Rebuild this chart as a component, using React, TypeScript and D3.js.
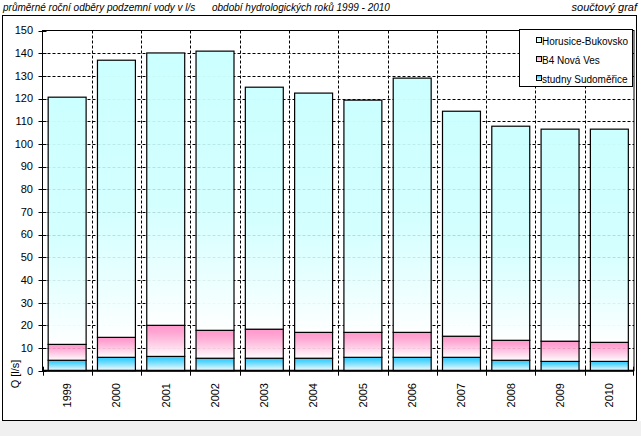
import * as d3 from "d3";

const years = ["1999", "2000", "2001", "2002", "2003", "2004", "2005", "2006", "2007", "2008", "2009", "2010"];
// studny Sudoměřice (bottom)
const sudomerice = [4.6, 5.9, 6.3, 5.5, 5.5, 5.5, 5.9, 5.9, 5.9, 4.6, 4.1, 4.1];
// B4 Nová Ves (middle)
const novaVes = [7.0, 8.8, 13.7, 12.3, 12.8, 11.4, 11.0, 11.0, 9.3, 8.8, 8.9, 8.4];
// Horusice-Bukovsko (top)
const horusice = [109.0, 122.2, 120.1, 123.1, 106.7, 105.5, 102.4, 112.1, 99.2, 94.4, 93.5, 94.0];
const yTicks = d3.range(0, 151, 10);

const seriesNames = ["studny Sudoměřice", "B4 Nová Ves", "Horusice-Bukovsko"];
const seriesColors = ["#33ccff", "#ff99cc", "#ccffff"];
const legendOrder = ["Horusice-Bukovsko", "B4 Nová Ves", "studny Sudoměřice"];

const W = 641;
const H = 436;
const plot = { left: 42.5, right: 634, top: 30.5, bottom: 370.7 };
const font = "'Liberation Sans', Arial, sans-serif";

export default function App() {
  const x = d3.scaleBand<string>().domain(years).range([plot.left, plot.right]).paddingInner(0.23).paddingOuter(0.115);
  const xCat = d3.scaleBand<string>().domain(years).range([plot.left, plot.right]);
  const y = d3.scaleLinear().domain([0, 150]).range([plot.bottom, plot.top]);

  const rows = years.map((yr, i) => ({ year: yr, s0: sudomerice[i], s1: novaVes[i], s2: horusice[i] }));
  const stack = d3.stack<any>().keys(["s0", "s1", "s2"])(rows);

  return (
    <svg width={W} height={H} style={{ position: "absolute", left: 0, top: 0, background: "#fff" }}>
      <defs>
        {seriesColors.map((c, i) => (
          <linearGradient key={i} id={`grad${i}`} x1="0" y1="0" x2="0" y2="1">
            <stop offset="0" stopColor={c} />
            <stop offset={i === 2 ? "0.55" : "0.2"} stopColor={c} stopOpacity={i === 2 ? 0.85 : 0.9} />
            <stop offset="1" stopColor="#ffffff" />
          </linearGradient>
        ))}
      </defs>
      <rect x={0} y={0} width={W} height={H} fill="#ffffff" />
      <rect x={0} y={421} width={W} height={15} fill="#f0f0f0" />

      {/* title row */}
      <g fontFamily={font} fontStyle="italic" fill="#000">
        <text x={3} y={11} fontSize={10}>průměrné roční odběry podzemní vody v l/s</text>
        <text x={212} y={11} fontSize={10}>období hydrologických roků 1999 - 2010</text>
        <text x={637} y={11} fontSize={11} textAnchor="end">součtový graf</text>
      </g>

      {/* outer frame */}
      <rect x={2.5} y={15.5} width={634} height={405} fill="none" stroke="#000" strokeWidth={1} />

      {/* grid */}
      <g stroke="#000" strokeWidth={1} strokeDasharray="3,2">
        {yTicks.slice(1, -1).map((t) => (
          <line key={t} x1={plot.left} x2={plot.right} y1={Math.round(y(t)) + 0.5} y2={Math.round(y(t)) + 0.5} />
        ))}
        {years.slice(1).map((yr) => (
          <line key={yr} x1={Math.round(xCat(yr)!) + 0.5} x2={Math.round(xCat(yr)!) + 0.5} y1={plot.top} y2={plot.bottom} />
        ))}
      </g>

      {/* bars */}
      {stack.map((layer, li) => (
        <g key={li} fill={`url(#grad${li})`} stroke="#000" strokeWidth={1.2}>
          {layer.map((d, i) => (
            <rect
              key={i}
              x={x(years[i])!}
              y={y(d[1])}
              width={x.bandwidth()}
              height={y(d[0]) - y(d[1])}
            />
          ))}
        </g>
      ))}

      {/* plot border */}
      <rect x={plot.left} y={plot.top} width={plot.right - plot.left} height={plot.bottom - plot.top} fill="none" stroke="#000" strokeWidth={1} />
      <line x1={plot.left} x2={plot.right} y1={plot.bottom} y2={plot.bottom} stroke="#000" strokeWidth={2} />

      {/* y axis */}
      <g fontFamily={font} fontSize={11} fill="#000">
        {yTicks.map((t) => (
          <g key={t}>
            <line x1={plot.left - 4} x2={plot.left + 4} y1={Math.round(y(t)) + 0.5} y2={Math.round(y(t)) + 0.5} stroke="#000" />
            <text x={33} y={y(t)} dy="0.35em" textAnchor="end">{t}</text>
          </g>
        ))}
        <text transform={`translate(19,374) rotate(-90)`} textAnchor="middle">Q [l/s]</text>
      </g>

      {/* x axis */}
      <g fontFamily={font} fontSize={11} fill="#000">
        {years.map((yr) => (
          <line key={"t" + yr} x1={Math.round(xCat(yr)!) + 0.5} x2={Math.round(xCat(yr)!) + 0.5} y1={plot.bottom - 4} y2={plot.bottom + 5} stroke="#000" />
        ))}
        <line x1={plot.right - 0.5} x2={plot.right - 0.5} y1={plot.bottom - 4} y2={plot.bottom + 5} stroke="#000" />
        {years.map((yr) => (
          <text key={yr} transform={`translate(${xCat(yr)! + xCat.bandwidth() / 2},383) rotate(-90)`} textAnchor="end" dy="0.35em">
            {yr}
          </text>
        ))}
      </g>

      {/* legend */}
      <g fontFamily={font} fontSize={10}>
        <rect x={519.5} y={29.5} width={113} height={57} fill="#fff" stroke="#000" />
        {legendOrder.map((name, i) => {
          const si = seriesNames.indexOf(name);
          const ly = 41 + i * 19;
          return (
            <g key={name}>
              <rect x={536.5} y={ly - 3.5} width={5} height={5} fill={`url(#grad${si})`} stroke="#000" />
              <text x={542} y={ly} dy="0.35em">{name}</text>
            </g>
          );
        })}
      </g>
    </svg>
  );
}
